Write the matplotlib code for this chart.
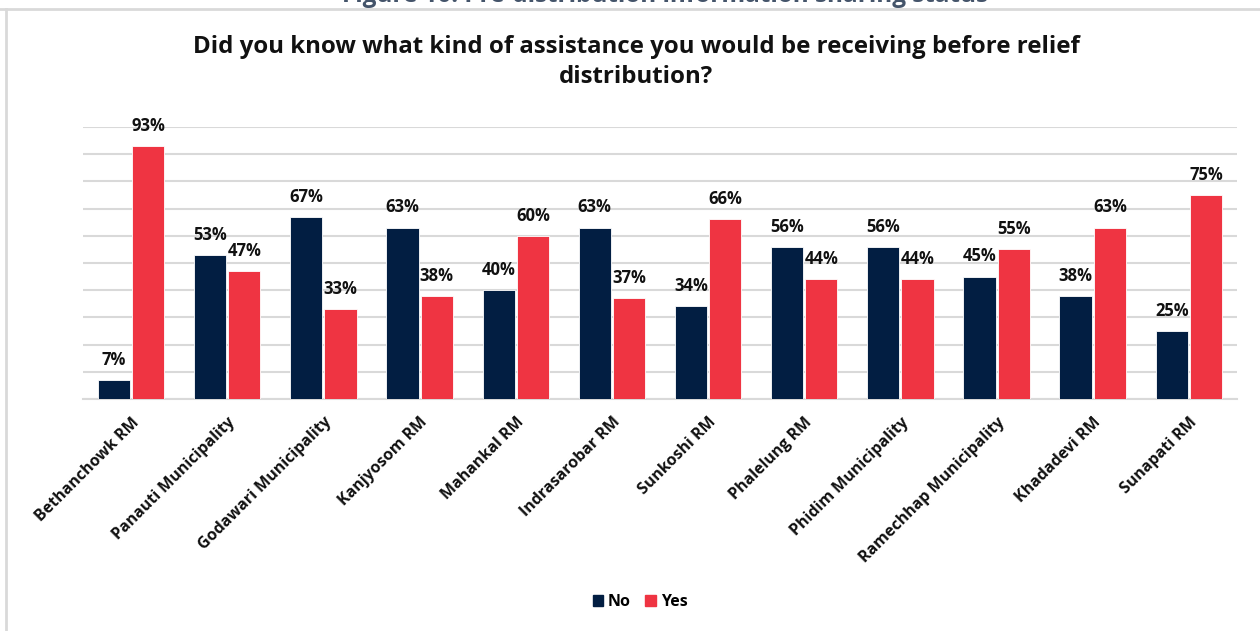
import numpy as np
import matplotlib.pyplot as plt
from matplotlib.lines import Line2D

plt.rcParams['font.family'] = ['Open Sans', 'DejaVu Sans']

places = ['Bethanchowk RM', 'Panauti Municipality', 'Godawari Municipality', 'Kanjyosom RM',
          'Mahankal RM', 'Indrasarobar RM', 'Sunkoshi RM', 'Phalelung RM',
          'Phidim Municipality', 'Ramechhap Municipality', 'Khadadevi RM', 'Sunapati RM']
no_pct = [7, 53, 67, 63, 40, 63, 34, 56, 56, 45, 38, 25]
yes_pct = [93, 47, 33, 38, 60, 37, 66, 44, 44, 55, 63, 75]

navy = '#021E42'
red = '#EF3442'
grid_col = '#D9D9D9'

fig = plt.figure(figsize=(12.6, 6.31), dpi=100)
ax = fig.add_axes([0.0659, 0.3677, 0.9158, 0.4311])

x = np.arange(len(places))
w = 0.335
off = 0.178
ax.bar(x - off, no_pct, w, color=navy, edgecolor='white', linewidth=0.6, zorder=3, label='No')
ax.bar(x + off, yes_pct, w, color=red, edgecolor='white', linewidth=0.6, zorder=3, label='Yes')

for xi, v in zip(x, no_pct):
    ax.annotate(f'{v}%', (xi - off, v), xytext=(0, 8), textcoords='offset points',
                ha='center', va='bottom', fontsize=12, fontweight='bold', color='#111111')
for xi, v in zip(x, yes_pct):
    ax.annotate(f'{v}%', (xi + off, v), xytext=(0, 8), textcoords='offset points',
                ha='center', va='bottom', fontsize=12, fontweight='bold', color='#111111')

ax.set_xlim(-0.5, len(places) - 0.5)
ax.set_ylim(0, 100)
ax.set_yticks(np.arange(0, 101, 10))
ax.yaxis.grid(True, color=grid_col, linewidth=1.5, zorder=0)
ax.set_yticklabels([])
ax.tick_params(axis='y', length=0)
ax.tick_params(axis='x', length=0, pad=11)
ax.set_xticks(x)
ax.set_xticklabels(places, rotation=45, ha='right', rotation_mode='anchor',
                   fontsize=11.5, fontweight='bold', color='#111111')
for s in ['top', 'right', 'left']:
    ax.spines[s].set_visible(False)
ax.spines['bottom'].set_color(grid_col)
ax.spines['bottom'].set_linewidth(1.5)

fig.text(0.505, 0.902, 'Did you know what kind of assistance you would be receiving before relief\ndistribution?',
         ha='center', va='center', fontsize=17.3, fontweight='bold', color='#111111', linespacing=1.3)

# figure caption sitting above the panel
fig.text(0.528, 1 - 1.5 / 631, 'Figure 10: Pre-distribution information sharing status',
         ha='center', va='baseline', fontsize=17.5, fontweight='bold', color='#44546A')

# panel border (top and left)
fig.add_artist(Line2D([0, 1], [1 - 8.5 / 631] * 2, color=grid_col, linewidth=2, transform=fig.transFigure))
fig.add_artist(Line2D([5.5 / 1260] * 2, [0, 1 - 8.5 / 631], color=grid_col, linewidth=2, transform=fig.transFigure))

handles = [plt.Rectangle((0, 0), 1, 1, color=navy), plt.Rectangle((0, 0), 1, 1, color=red)]
fig.legend(handles, ['No', 'Yes'], loc='center', bbox_to_anchor=(0.508, 0.046), ncol=2, frameon=False,
           prop={'size': 11.5, 'weight': 'bold'}, handlelength=0.65, handleheight=0.65,
           handletextpad=0.3, columnspacing=0.9)

fig.savefig('out.png', dpi=100, facecolor='white')
